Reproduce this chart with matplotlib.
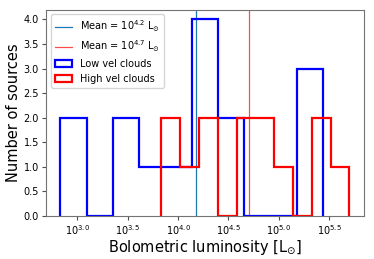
import numpy as np
import matplotlib
matplotlib.use("Agg")
import matplotlib.pyplot as plt

# log10 bolometric luminosity bin edges and counts
low_edges = [2.833, 3.094, 3.354, 3.614, 3.875, 4.135, 4.396, 4.656, 4.916, 5.177, 5.437]
low_counts = [2, 0, 2, 1, 1, 4, 2, 0, 0, 3]
high_edges = [3.835, 4.021, 4.208, 4.394, 4.581, 4.767, 4.954, 5.140, 5.327, 5.514, 5.700]
high_counts = [2, 1, 2, 0, 2, 2, 1, 0, 2, 1]
mean_low = 4.18
mean_high = 4.70
xtick_vals = [3.0, 3.5, 4.0, 4.5, 5.0, 5.5]

fig = plt.figure(figsize=(3.74, 2.59), dpi=100)
ax = fig.add_axes([0.123, 0.166, 0.850, 0.797])

ax.axvline(mean_low, color="tab:blue", lw=0.9, label=r"Mean = $10^{4.2}$ L$_{\odot}$")
ax.axvline(mean_high, color="red", lw=0.9, alpha=0.7, label=r"Mean = $10^{4.7}$ L$_{\odot}$")

lc = np.array(low_edges)
hc = np.array(high_edges)
ax.hist((lc[:-1] + lc[1:]) / 2, bins=low_edges, weights=low_counts,
        histtype="step", color="blue", lw=1.6, label="Low vel clouds")
ax.hist((hc[:-1] + hc[1:]) / 2, bins=high_edges, weights=high_counts,
        histtype="step", color="red", lw=1.6, label="High vel clouds")

ax.set_xticks(xtick_vals)
ax.set_xticklabels([r"$10^{%.1f}$" % v for v in xtick_vals])
ax.tick_params(labelsize=7, color="0.3", length=3, pad=2)
ax.set_xlabel(r"Bolometric luminosity [L$_{\odot}$]", fontsize=10.5, labelpad=1)
ax.set_ylabel("Number of sources", fontsize=10.5, labelpad=2)
for s in ax.spines.values():
    s.set_color("0.45")
ax.legend(loc="upper left", fontsize=7, handlelength=1.8)

fig.savefig("out.png", dpi=100)
